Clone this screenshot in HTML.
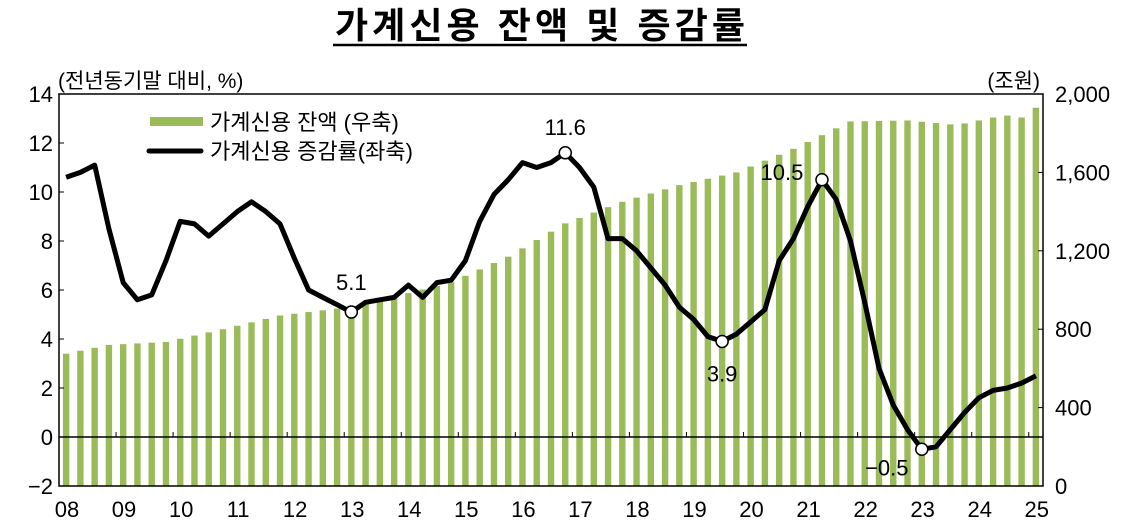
<!DOCTYPE html>
<html><head><meta charset="utf-8"><style>
body{margin:0;background:#fff;}
svg text{font-family:"Liberation Sans","Noto Sans CJK KR",sans-serif;}
</style></head><body>
<svg id="c" width="1142" height="527" xmlns="http://www.w3.org/2000/svg"></svg>
<script>
const s=document.getElementById('c');
let h='';
const L=59,R=1043,T=94,B=486;
const yL=v=>B-(v+2)*(B-T)/16, yR=v=>B-v*(B-T)/2000;
const qw=(R-L)/69, xc=i=>L+qw*(i+0.5);
const anchors=[[0,675],[3,720],[7,735],[11,800],[15,870],[19,905],[23,965],[27,1040],[31,1170],[35,1340],[39,1450],[43,1535],[47,1600],[51,1720],[55,1860],[59,1865],[62,1845],[63,1850],[65,1880],[66,1890],[67,1880],[68,1930]];
function bv(i){for(let k=0;k<anchors.length-1;k++){const[a,va]=anchors[k],[b,vb]=anchors[k+1];if(i>=a&&i<=b)return va+(vb-va)*(i-a)/(b-a);}return 1930;}
for(let i=0;i<69;i++){const x=xc(i),v=bv(i);h+=`<rect x="${x-3.2}" y="${yR(v)}" width="6.4" height="${B-yR(v)}" fill="#9bbb59"/>`;}
h+=`<rect x="${L}" y="${T}" width="${R-L}" height="${B-T}" fill="none" stroke="#000" stroke-width="1.5"/>`;
h+=`<line x1="${L}" x2="${R}" y1="${yL(0)}" y2="${yL(0)}" stroke="#000" stroke-width="1.5"/>`;
for(let v=-2;v<=14;v+=2){const y=yL(v);h+=`<line x1="${L}" x2="${L+5}" y1="${y}" y2="${y}" stroke="#000"/><text x="${L-6}" y="${y+8}" font-size="22" text-anchor="end">${v<0?'−2':v}</text>`;}
for(let v=0;v<=2000;v+=400){const y=yR(v);h+=`<line x1="${R-5}" x2="${R}" y1="${y}" y2="${y}" stroke="#000"/><text x="${R+12}" y="${y+8}" font-size="22">${v.toLocaleString('en-US')}</text>`;}
for(let yr=0;yr<=17;yr++){const x=L+qw*4*yr;if(yr>0)h+=`<line x1="${x}" x2="${x}" y1="${yL(0)}" y2="${yL(0)-5}" stroke="#000"/>`;h+=`<text x="${x+8}" y="517" font-size="22" text-anchor="middle">${String(8+yr).padStart(2,'0')}</text>`;}
const lv=[10.6,10.8,11.1,8.5,6.3,5.6,5.8,7.2,8.8,8.7,8.2,8.7,9.2,9.6,9.2,8.7,7.3,6.0,5.7,5.4,5.1,5.5,5.6,5.7,6.2,5.7,6.3,6.4,7.2,8.8,9.9,10.5,11.2,11.0,11.2,11.6,11.0,10.2,8.1,8.1,7.6,6.9,6.2,5.3,4.8,4.1,3.9,4.2,4.7,5.2,7.2,8.1,9.4,10.5,9.7,8.0,5.5,2.8,1.3,0.3,-0.5,-0.4,0.3,1.0,1.6,1.9,2.0,2.2,2.5];
h+=`<polyline fill="none" stroke="#000" stroke-width="5" stroke-linejoin="round" points="${lv.map((v,i)=>xc(i).toFixed(1)+','+yL(v).toFixed(1)).join(' ')}"/>`;
[[20,'5.1',0,-22],[35,'11.6',0,-18],[46,'3.9',0,40],[53,'10.5',-40,0],[60,'−0.5',-35,26]].forEach(([i,t,dx,dy])=>{const x=xc(i),y=yL(lv[i]);h+=`<circle cx="${x}" cy="${y}" r="6" fill="#fff" stroke="#000" stroke-width="1.5"/><text x="${x+dx}" y="${y+dy}" font-size="22" text-anchor="middle">${t}</text>`;});
h+=`<rect x="150" y="117" width="53" height="9" fill="#9bbb59"/><text x="210" y="130" font-size="22">가계신용 잔액 (우축)</text>`;
h+=`<line x1="149" x2="201" y1="151" y2="151" stroke="#000" stroke-width="5" stroke-linecap="round"/><text x="210" y="159" font-size="22">가계신용 증감률(좌축)</text>`;
h+=`<text x="58" y="88" font-size="21">(전년동기말 대비, %)</text><text x="1040" y="88" font-size="21" text-anchor="end">(조원)</text>`;
h+=`<text x="335" y="38" font-size="36" font-weight="bold" textLength="410" lengthAdjust="spacing">가계신용 잔액 및 증감률</text><line x1="333" x2="747" y1="45" y2="45" stroke="#000" stroke-width="2.5"/>`;
s.innerHTML=h;
</script>
</body></html>
